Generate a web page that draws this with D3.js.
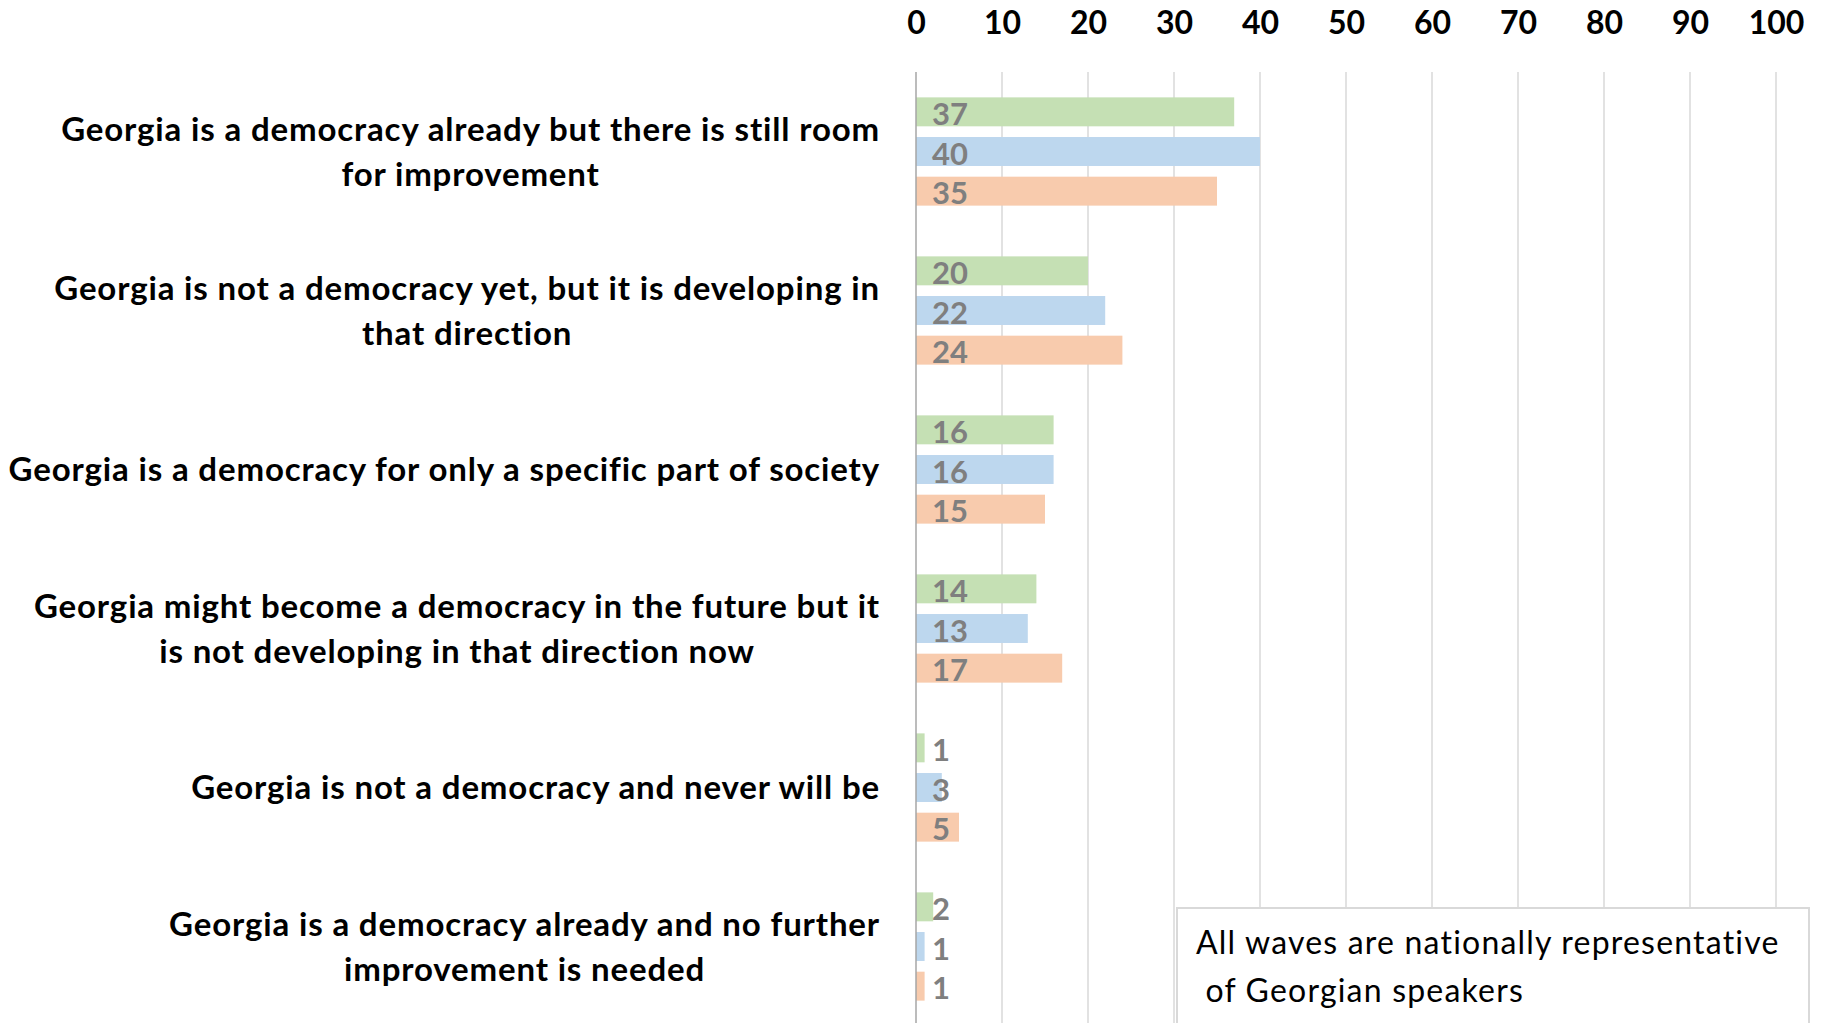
<!DOCTYPE html>
<html>
<head>
<meta charset="utf-8">
<script src="https://cdn.jsdelivr.net/npm/d3@7"></script>
<style>
  html, body { margin: 0; padding: 0; background: #ffffff; }
  svg { display: block; }
</style>
</head>
<body>
<svg id="chart"></svg>
<script>
//chart data
var categories = [
    ["Georgia is a democracy already but there is still room", "for improvement"],
    ["Georgia is not a democracy yet, but it is developing in", "that direction"],
    ["Georgia is a democracy for only a specific part of society"],
    ["Georgia might become a democracy in the future but it", "is not developing in that direction now"],
    ["Georgia is not a democracy and never will be"],
    ["Georgia is a democracy already and no further", "improvement is needed"]
]
var seriesNames = ["Wave 1", "Wave 2", "Wave 3"]
var wave1 = [37, 20, 16, 14, 1, 2]
var wave2 = [40, 22, 16, 13, 3, 1]
var wave3 = [35, 24, 15, 17, 5, 1]
var tickValues = [0, 10, 20, 30, 40, 50, 60, 70, 80, 90, 100]
var noteLines = ["All waves are nationally representative", " of Georgian speakers"]

var seriesValues = [wave1, wave2, wave3]

//dimensions
var dimensions = {
    width: 1823,
    height: 1023,
    margin: {
        top: 72,
        bottom: -3,
        left: 916,
        right: 47
    }
}

//drawing style
var colors = ["#c5e0b4", "#bdd7ee", "#f8cbad"]
var gridColor = "#d9d9d9"
var axisColor = "#a6a6a6"
var valueColor = "#7f7f7f"
var fontFamily = "Lato, 'Open Sans', sans-serif"
var labelFontSize = 33
var labelSpacing = 0.85
var tickFontSize = 32
var valueFontSize = 31
var lineGap = 45

var svg = d3.select("#chart")
            .attr("width", dimensions.width)
            .attr("height", dimensions.height)
            .style("font-family", fontFamily)

//scales
var x = d3.scaleLinear()
          .domain([0, 100])
          .range([dimensions.margin.left, dimensions.width - dimensions.margin.right])

var y = d3.scaleBand()
          .domain(d3.range(categories.length))
          .range([dimensions.margin.top, dimensions.height - dimensions.margin.bottom])

var ySub = d3.scaleBand()
             .domain(d3.range(seriesNames.length))
             .range([0, y.bandwidth()])
             .paddingInner(0.27)
             .paddingOuter(0.64)

//gridlines
svg.append("g")
   .selectAll("line")
   .data(tickValues.slice(1))
   .enter()
   .append("line")
   .attr("x1", d => x(d))
   .attr("x2", d => x(d))
   .attr("y1", dimensions.margin.top)
   .attr("y2", dimensions.height)
   .attr("stroke", gridColor)
   .attr("stroke-width", 1.5)

//top axis labels
var axis = d3.axisTop(x)
             .tickValues(tickValues)
             .tickSize(0)
             .tickPadding(0)
svg.append("g")
   .attr("transform", "translate(0, 23)")
   .call(axis)
   .call(g => g.select(".domain").remove())
   .call(g => g.selectAll("text")
               .attr("dy", "0.35em")
               .attr("font-family", fontFamily)
               .attr("font-size", tickFontSize)
               .attr("font-weight", "bold")
               .attr("fill", "#000000"))

//bars
var groups = svg.append("g")
                .selectAll(".group")
                .data(categories)
                .enter()
                .append("g")
                .attr("class", "group")
                .attr("transform", (d, i) => `translate(0, ${y(i)})`)

groups.selectAll("rect")
      .data((d, i) => seriesValues.map((vals, s) => ({series: s, value: vals[i]})))
      .enter()
      .append("rect")
      .attr("x", x(0))
      .attr("y", d => ySub(d.series))
      .attr("width", d => x(d.value) - x(0))
      .attr("height", ySub.bandwidth())
      .attr("fill", d => colors[d.series])

//value labels (inside base)
groups.selectAll(".value")
      .data((d, i) => seriesValues.map((vals, s) => ({series: s, value: vals[i]})))
      .enter()
      .append("text")
      .attr("class", "value")
      .attr("x", x(0) + 16)
      .attr("y", d => ySub(d.series) + ySub.bandwidth() / 2)
      .attr("dy", "0.42em")
      .attr("font-size", valueFontSize)
      .attr("font-weight", "bold")
      .attr("fill", valueColor)
      .text(d => d.value)

//zero axis line
svg.append("line")
   .attr("x1", x(0))
   .attr("x2", x(0))
   .attr("y1", dimensions.margin.top)
   .attr("y2", dimensions.height)
   .attr("stroke", axisColor)
   .attr("stroke-width", 1.5)

//category labels: block right-aligned to the axis, lines centered in the block
var labelRight = 880
categories.forEach(function(lines, i) {
    var g = svg.append("g")
    var cy = y(i) + y.bandwidth() / 2
    var texts = lines.map(function(line, k) {
        return g.append("text")
                .attr("y", cy + (k - (lines.length - 1) / 2) * lineGap)
                .attr("dy", "0.35em")
                .attr("text-anchor", "middle")
                .attr("font-size", labelFontSize)
                .attr("font-weight", "bold")
                .attr("letter-spacing", labelSpacing)
                .attr("fill", "#000000")
                .text(line)
    })
    var maxWidth = d3.max(texts, t => t.node().getComputedTextLength())
    texts.forEach(t => t.attr("x", labelRight - maxWidth / 2))
})

//note box
var note = svg.append("g")
note.append("rect")
    .attr("x", 1177)
    .attr("y", 908)
    .attr("width", 632)
    .attr("height", 130)
    .attr("fill", "#ffffff")
    .attr("stroke", gridColor)
    .attr("stroke-width", 2)
note.selectAll("text")
    .data(noteLines)
    .enter()
    .append("text")
    .attr("x", 1196)
    .attr("y", (d, i) => 943 + i * 48)
    .attr("dy", "0.35em")
    .attr("font-size", 32)
    .attr("letter-spacing", 1.2)
    .attr("fill", "#000000")
    .style("white-space", "pre")
    .text(d => d)
</script>
</body>
</html>
